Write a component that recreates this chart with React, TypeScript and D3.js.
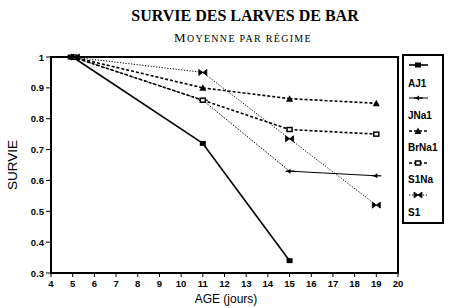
import React from "react";
import * as d3 from "d3";

const ages = [5, 11, 15, 19];
const AJ1 = [1, 0.72, 0.34];
const JNa1 = [1, 0.86, 0.63, 0.615];
const BrNa1 = [1, 0.9, 0.865, 0.85];
const S1Na = [1, 0.86, 0.765, 0.75];
const S1 = [1, 0.95, 0.735, 0.52];
const seriesNames = ["AJ1", "JNa1", "BrNa1", "S1Na", "S1"];
const xTicks = d3.range(4, 21);
const yTicks = [0.3, 0.4, 0.5, 0.6, 0.7, 0.8, 0.9, 1];

type Style = { width: number; dash: (string | null)[]; marker: string };
const styles: Record<string, Style> = {
  AJ1: { width: 1.6, dash: [null, null, null], marker: "fsquare" },
  JNa1: { width: 1, dash: ["1.5,1.5", "1.5,1.5", null], marker: "arrow" },
  BrNa1: { width: 1.6, dash: ["3,2", "3,2", "3,2"], marker: "triangle" },
  S1Na: { width: 1.6, dash: ["3,2", "3,2", "3,2"], marker: "osquare" },
  S1: { width: 1, dash: ["1.2,1.6", "1.2,1.6", "1.2,1.6"], marker: "bowtie" },
};
const dataMap: Record<string, number[]> = { AJ1, JNa1, BrNa1, S1Na, S1 };

function Marker({ kind, x, y }: { kind: string; x: number; y: number }) {
  if (kind === "fsquare") return <rect x={x - 3} y={y - 2.5} width={6} height={5} fill="#000" />;
  if (kind === "osquare")
    return <rect x={x - 2.5} y={y - 2} width={5} height={4} fill="#fff" stroke="#000" strokeWidth={1.5} />;
  if (kind === "triangle")
    return <path d={`M${x - 3.5},${y + 3}L${x + 3.5},${y + 3}L${x},${y - 3.5}Z`} fill="#000" />;
  if (kind === "arrow")
    return (
      <g>
        <path d={`M${x - 3},${y}L${x + 1},${y - 2.5}L${x + 1},${y + 2.5}Z`} fill="#000" />
        <line x1={x - 4} x2={x + 5} y1={y} y2={y} stroke="#000" strokeWidth={1.2} />
      </g>
    );
  return (
    <path
      d={`M${x - 4},${y - 3}L${x + 4},${y + 3}L${x + 4},${y - 3}L${x - 4},${y + 3}Z`}
      fill="#000"
      stroke="#000"
      strokeWidth={0.8}
    />
  );
}

export default function App() {
  const W = 450, H = 308;
  const x = d3.scaleLinear().domain([4, 20]).range([51, 398]);
  const y = d3.scaleLinear().domain([0.3, 1]).range([273, 57]);
  const sans = "'Liberation Sans', Arial, sans-serif";
  const serif = "'Liberation Serif', 'Times New Roman', serif";

  const legendLineY = [65, 98, 131, 163, 195];
  const legendLabelY = [87, 119, 151, 183, 216];

  return (
    <svg width={W} height={H} style={{ position: "absolute", left: 0, top: 0, background: "#fff" }}>
      <rect width={W} height={H} fill="#fff" />
      <text x={245} y={21} textAnchor="middle" fontFamily={serif} fontWeight="bold" fontSize={16}>
        SURVIE DES LARVES DE BAR
      </text>
      <text x={243} y={42} textAnchor="middle" fontFamily={serif} letterSpacing={1.3}>
        <tspan fontSize={13}>M</tspan>
        <tspan fontSize={10}>OYENNE PAR RÉGIME</tspan>
      </text>

      {seriesNames.map((name) => {
        const vals = dataMap[name];
        const st = styles[name];
        return (
          <g key={name}>
            {vals.slice(1).map((v, i) => (
              <line
                key={i}
                x1={x(ages[i])}
                y1={y(vals[i])}
                x2={x(ages[i + 1])}
                y2={y(v)}
                stroke="#000"
                strokeWidth={st.width}
                strokeDasharray={st.dash[i] || undefined}
              />
            ))}
          </g>
        );
      })}
      {seriesNames.map((name) => {
        const vals = dataMap[name];
        const st = styles[name];
        return (
          <g key={name + "m"}>
            {vals.map((v, i) => (
              <Marker key={i} kind={st.marker} x={x(ages[i]) + (i === 0 ? seriesNames.indexOf(name) * 1.2 - 2 : 0)} y={y(v)} />
            ))}
          </g>
        );
      })}

      <rect x={51} y={57} width={347} height={216} fill="none" stroke="#000" strokeWidth={2} />

      {yTicks.map((t) => (
        <g key={t}>
          <line x1={46} x2={51} y1={y(t)} y2={y(t)} stroke="#000" strokeWidth={1} />
          <text x={44} y={y(t) + 3.5} textAnchor="end" fontFamily={sans} fontWeight="bold" fontSize={9.5}>
            {t === 1 ? "1" : d3.format(".1f")(t)}
          </text>
        </g>
      ))}
      {xTicks.map((t) => (
        <g key={t}>
          <line x1={x(t)} x2={x(t)} y1={273} y2={277} stroke="#000" strokeWidth={1} />
          <text x={x(t)} y={287} textAnchor="middle" fontFamily={sans} fontWeight="bold" fontSize={9.5}>
            {t}
          </text>
        </g>
      ))}

      <text transform={`translate(17,165) rotate(-90)`} textAnchor="middle" fontFamily={sans} fontSize={13.5}>
        SURVIE
      </text>
      <text x={226} y={303} textAnchor="middle" fontFamily={sans} fontSize={12}>
        AGE (jours)
      </text>

      <rect x={403} y={55} width={40} height={168} fill="#fff" stroke="#000" strokeWidth={2} />
      {seriesNames.map((name, i) => {
        const st = styles[name];
        const ly = legendLineY[i];
        return (
          <g key={name + "l"}>
            <line
              x1={409}
              x2={428}
              y1={ly}
              y2={ly}
              stroke="#000"
              strokeWidth={st.width}
              strokeDasharray={name === "JNa1" ? undefined : st.dash[0] || undefined}
            />
            <Marker kind={st.marker} x={418} y={ly} />
            <text x={408} y={legendLabelY[i]} fontFamily={sans} fontWeight="bold" fontSize={10}>
              {name}
            </text>
          </g>
        );
      })}
    </svg>
  );
}
